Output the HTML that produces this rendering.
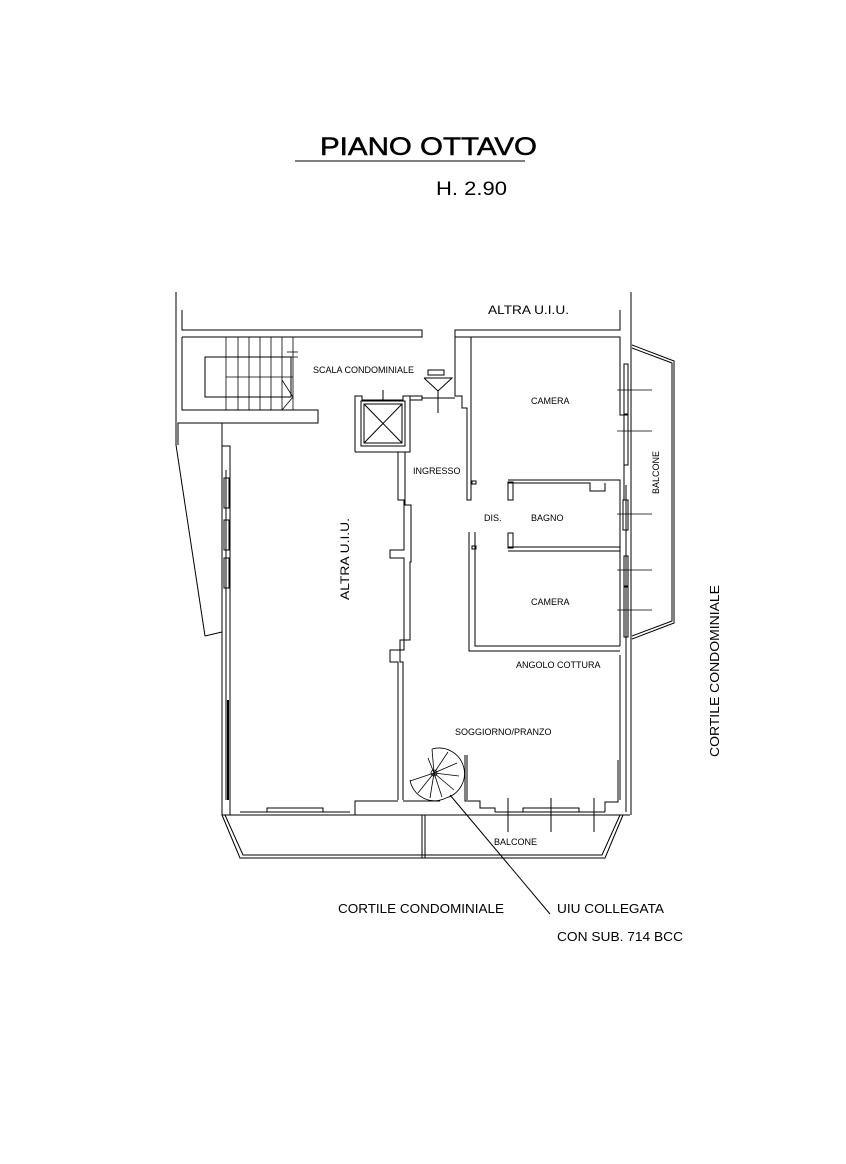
<!DOCTYPE html>
<html><head><meta charset="utf-8"><style>
html,body{margin:0;padding:0;background:#fff}
svg{display:block}
text{font-family:"Liberation Sans",sans-serif;fill:#000}
</style></head><body>
<svg width="846" height="1164" viewBox="0 0 846 1164" xmlns="http://www.w3.org/2000/svg">
<g fill="none" stroke="#000" stroke-width="1">
<line x1="295" y1="161" x2="525" y2="161"/>
<polyline points="176,292 176,445 205,636"/>
<line x1="205" y1="636" x2="222" y2="632"/>
<line x1="631" y1="292" x2="631" y2="815"/>
<polyline points="182,310 182,330 422,330 422,337 182,337"/>
<polyline points="620,310 620,330 455,330 455,337 620,337"/>
<polyline points="182,337 182,410 318,410 318,423 178,423 178,445"/>
<rect x="205" y="357" width="86" height="40"/>
<g stroke-width="0.8">
<line x1="226" y1="337" x2="226" y2="410"/><line x1="238" y1="337" x2="238" y2="410"/>
<line x1="249" y1="337" x2="249" y2="410"/><line x1="260" y1="337" x2="260" y2="410"/>
<line x1="271" y1="337" x2="271" y2="410"/><line x1="282" y1="337" x2="282" y2="410"/>
<line x1="293" y1="337" x2="293" y2="410"/><line x1="226" y1="377" x2="293" y2="377"/>
<polyline points="282,380 293,397 282,410"/>
<line x1="287" y1="352" x2="298" y2="352"/><line x1="287" y1="357" x2="298" y2="357"/>
</g>
<polyline points="178,445 178,423 222,423 222,446 230,446 230,815"/>
<polyline points="222,446 222,815 630,815"/>
<line x1="226" y1="470" x2="226" y2="800"/>
<line x1="228" y1="700" x2="228" y2="800" stroke-width="2"/>
<rect x="224" y="478" width="5" height="30"/><rect x="224" y="520" width="5" height="30"/><rect x="224" y="558" width="5" height="30"/>
<polyline points="355,452 355,396 362,396 362,400 403,400 403,396 410,396 410,452 355,452"/>
<rect x="361" y="401" width="44" height="45"/>
<rect x="364" y="404" width="38" height="39"/>
<line x1="364" y1="404" x2="402" y2="443"/><line x1="402" y1="404" x2="364" y2="443"/>
<line x1="383" y1="390" x2="383" y2="400"/>
<polyline points="410,396 422,396 422,400 410,400"/>
<line x1="422" y1="398" x2="455" y2="398"/>
<rect x="428" y="370" width="16" height="5"/>
<polyline points="424,378 452,378 438,391 424,378"/>
<line x1="438" y1="390" x2="438" y2="413"/>
<polyline points="455,337 455,396 462,396 462,400 462,408 467,408 467,500 471,500 471,337"/>
<rect x="472" y="481" width="4" height="3"/>
<polyline points="398,452 398,500 404,500 404,550 390,550 390,558 404,558 404,650 390,650 390,662 398,662 398,800"/>
<polyline points="405,452 405,505 411,505 411,562 410,562 410,640 400,640 400,662 403,662 403,800"/>
<polyline points="475,337 620,337 620,415 624,415 624,500"/>
<polyline points="508,480 620,480 620,485"/>
<polyline points="508,483 590,483 590,491 605,491 605,483"/>
<rect x="508" y="482" width="5" height="18"/>
<rect x="508" y="533" width="5" height="15"/>
<polyline points="508,547 620,547 620,551 508,551"/>
<polyline points="469,532 469,651 620,651"/>
<polyline points="475,532 475,646 620,646"/>
<rect x="472" y="546" width="4" height="3"/>
<line x1="620" y1="480" x2="620" y2="547"/>
<line x1="626" y1="485" x2="626" y2="812"/>
<line x1="620" y1="551" x2="620" y2="646"/>
<line x1="620" y1="655" x2="620" y2="800"/>
<rect x="624" y="364" width="4" height="50"/><rect x="624" y="415" width="4" height="50"/>
<rect x="623" y="500" width="5" height="30"/>
<rect x="624" y="556" width="4" height="30"/><rect x="624" y="587" width="4" height="50"/>
<g stroke-width="0.8">
<line x1="617" y1="390" x2="652" y2="390"/><line x1="617" y1="431" x2="652" y2="431"/>
<line x1="617" y1="514" x2="652" y2="514"/><line x1="617" y1="570" x2="652" y2="570"/>
<line x1="617" y1="610" x2="652" y2="610"/>
</g>
<polyline points="632,345 674,361 674,623 632,639"/>
<polyline points="632,348 672,363 672,621 632,636"/>
<polyline points="355,815 355,801 398,801"/>
<polyline points="403,801 440,801"/>
<polyline points="465,755 465,801 480,801 480,808 495,808 495,812"/>
<polyline points="467,755 467,800"/>
<polyline points="605,812 605,802 618,802 618,760"/>
<line x1="240" y1="812" x2="350" y2="812"/>
<rect x="267" y="808" width="56" height="4"/>
<line x1="495" y1="812" x2="605" y2="812"/>
<rect x="523" y="808" width="56" height="4"/>
<line x1="508" y1="798" x2="508" y2="832"/><line x1="551" y1="798" x2="551" y2="832"/><line x1="594" y1="798" x2="594" y2="832"/>
<polyline points="222,815 240,858 605,858 623,815"/>
<polyline points="225,815 243,855 602,855 620,815"/>
<line x1="422" y1="815" x2="422" y2="858"/><line x1="425" y1="815" x2="425" y2="858"/>
<g stroke-width="0.8">
<path d="M432,749 A25,25 0 1 1 446,798"/>
<path d="M410,780 A25,25 0 0 0 446,798"/>
<circle cx="434" cy="773" r="3"/>
<line x1="434" y1="773" x2="432" y2="749"/><line x1="434" y1="773" x2="448" y2="752"/>
<line x1="434" y1="773" x2="457" y2="763"/><line x1="434" y1="773" x2="459" y2="776"/>
<line x1="434" y1="773" x2="454" y2="790"/><line x1="434" y1="773" x2="442" y2="797"/>
<line x1="434" y1="773" x2="430" y2="798"/><line x1="434" y1="773" x2="418" y2="793"/>
<line x1="434" y1="773" x2="410" y2="781"/><line x1="434" y1="773" x2="428" y2="758"/>
</g>
<line x1="450" y1="795" x2="550" y2="914"/>
</g>
<text x="320" y="155" font-size="25" textLength="217" lengthAdjust="spacingAndGlyphs" stroke="#000" stroke-width="0.5">PIANO OTTAVO</text>
<text x="436" y="195" font-size="19" textLength="71" lengthAdjust="spacingAndGlyphs">H. 2.90</text>
<text x="488" y="314" font-size="12" textLength="81" lengthAdjust="spacingAndGlyphs">ALTRA U.I.U.</text>
<text x="313" y="373" font-size="9">SCALA CONDOMINIALE</text>
<text x="531" y="404" font-size="9">CAMERA</text>
<text x="413" y="474" font-size="9">INGRESSO</text>
<text x="484" y="521" font-size="9">DIS.</text>
<text x="531" y="521" font-size="9">BAGNO</text>
<text x="531" y="605" font-size="9">CAMERA</text>
<text x="516" y="668" font-size="9">ANGOLO COTTURA</text>
<text x="455" y="735" font-size="9">SOGGIORNO/PRANZO</text>
<text x="494" y="845" font-size="9">BALCONE</text>
<text font-size="9" transform="translate(659,494) rotate(-90)">BALCONE</text>
<text font-size="12" transform="translate(349,600) rotate(-90)" textLength="82" lengthAdjust="spacingAndGlyphs">ALTRA U.I.U.</text>
<text font-size="13" transform="translate(719,757) rotate(-90)" textLength="172" lengthAdjust="spacingAndGlyphs">CORTILE CONDOMINIALE</text>
<text x="338" y="913" font-size="13" textLength="166" lengthAdjust="spacingAndGlyphs">CORTILE CONDOMINIALE</text>
<text x="557" y="913" font-size="13" textLength="107" lengthAdjust="spacingAndGlyphs">UIU COLLEGATA</text>
<text x="557" y="941" font-size="13" textLength="126" lengthAdjust="spacingAndGlyphs">CON SUB. 714 BCC</text>
</svg>
</body></html>
